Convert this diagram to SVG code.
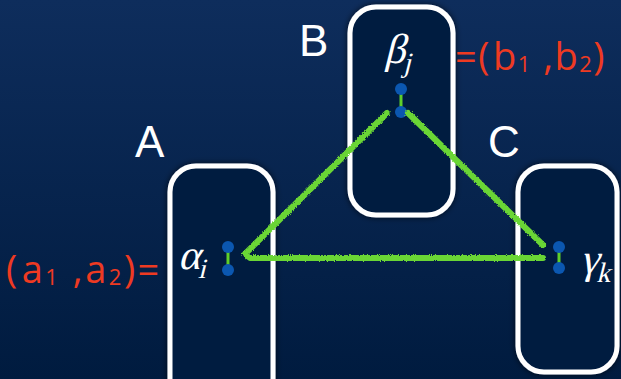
<svg xmlns="http://www.w3.org/2000/svg" width="621" height="379" viewBox="0 0 621 379">
  <defs>
    <linearGradient id="bg" x1="0" y1="0" x2="0" y2="1">
      <stop offset="0" stop-color="#0e2d5c"/>
      <stop offset="1" stop-color="#001b3f"/>
    </linearGradient>
    <filter id="chalk" x="-10%" y="-10%" width="120%" height="120%">
      <feTurbulence type="fractalNoise" baseFrequency="0.9" numOctaves="2" seed="3" result="n"/>
      <feDisplacementMap in="SourceGraphic" in2="n" scale="3" xChannelSelector="R" yChannelSelector="G"/>
    </filter>
    <filter id="glow" x="-20%" y="-20%" width="140%" height="140%">
      <feGaussianBlur in="SourceAlpha" stdDeviation="3" result="b"/>
      <feFlood flood-color="#000814" flood-opacity="0.7"/>
      <feComposite in2="b" operator="in" result="s"/>
      <feMerge><feMergeNode in="s"/><feMergeNode in="SourceGraphic"/></feMerge>
    </filter>
  </defs>
  <style>
    .box { fill: #021c40; stroke: #ffffff; stroke-width: 5; }
    .lbl { font-family: "Liberation Sans", Arial, sans-serif; font-size: 44px; fill: #ffffff; }
    .greek { font-family: "Liberation Serif", "DejaVu Serif", serif; font-size: 42px; fill: #ffffff; }
    .sub { font-size: 28px; }
    .hand { font-family: "Open Sans", "DejaVu Sans", sans-serif; font-weight: 400; font-size: 38px; letter-spacing: 2.5px; fill: #ee3a22; }
    .hsub { font-size: 22px; }
    .dot { fill: #0b57b0; }
    .stem { stroke: #5fcf2a; stroke-width: 3; }
    .edge { fill: none; stroke: #6ad636; stroke-width: 6; stroke-linecap: round; stroke-linejoin: round; }
  </style>

  <rect width="621" height="379" fill="url(#bg)"/>

  <!-- Node A -->
  <g id="nodeA">
    <rect class="box" x="170" y="166" width="103" height="240" rx="26" filter="url(#glow)"/>
    <text class="lbl" x="135" y="157">A</text>
    <text class="greek" transform="translate(178 269) skewX(-14)">α<tspan class="sub" dy="9">i</tspan></text>
    <line class="stem" x1="228" y1="247" x2="228" y2="270"/>
    <circle class="dot" cx="228" cy="247" r="6"/>
    <circle class="dot" cx="228" cy="270" r="6"/>
    <text class="hand" x="6" y="283">(<tspan dx="2">a</tspan><tspan class="hsub" dy="2">1</tspan><tspan dy="-2"> ,</tspan><tspan>a</tspan><tspan class="hsub" dy="2">2</tspan><tspan dy="-2">)=</tspan></text>
  </g>

  <!-- Node B -->
  <g id="nodeB">
    <rect class="box" x="350" y="7" width="103" height="208" rx="26" filter="url(#glow)"/>
    <text class="lbl" x="299" y="56">B</text>
    <text class="greek" transform="translate(384 63) skewX(-14)">β<tspan class="sub" dy="9">j</tspan></text>
    <line class="stem" x1="401" y1="89" x2="401" y2="112"/>
    <circle class="dot" cx="401" cy="89" r="6"/>
    <circle class="dot" cx="401" cy="112" r="6"/>
    <text class="hand" x="455" y="70" style="letter-spacing:1.5px">=(<tspan dx="2">b</tspan><tspan class="hsub" dy="2">1</tspan><tspan dy="-2"> ,</tspan><tspan>b</tspan><tspan class="hsub" dy="2">2</tspan><tspan dy="-2">)</tspan></text>
  </g>

  <!-- Node C -->
  <g id="nodeC">
    <rect class="box" x="518" y="166" width="99" height="206" rx="26" filter="url(#glow)"/>
    <text class="lbl" x="488" y="157">C</text>
    <text class="greek" transform="translate(580 273) skewX(-14)">γ<tspan class="sub" dy="9">k</tspan></text>
    <line class="stem" x1="559" y1="247" x2="559" y2="268"/>
    <circle class="dot" cx="559" cy="247" r="6"/>
    <circle class="dot" cx="559" cy="268" r="6"/>
  </g>

  <!-- Connectors -->
  <g id="edges" filter="url(#chalk)">
    <path class="edge" d="M387 113 L245 254 L250 258 L543 258"/>
    <path class="edge" d="M408 113 L543 245"/>
  </g>
</svg>
